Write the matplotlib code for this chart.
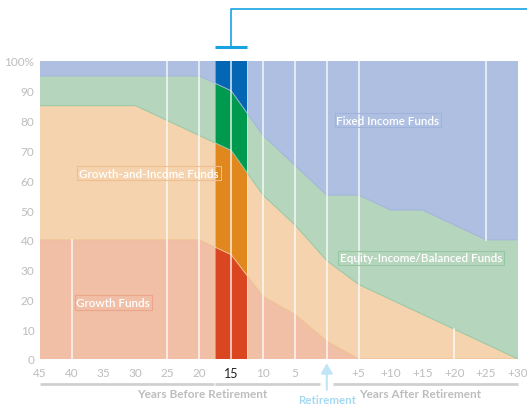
import numpy as np
import matplotlib
matplotlib.use("Agg")
import matplotlib.pyplot as plt
from matplotlib.patches import Rectangle

plt.rcParams["font.family"] = ["Lato", "DejaVu Sans"]

# years relative to retirement (negative = before)
years = [-45, -40, -35, -30, -25, -20, -15, -10, -5, 0, 5, 10, 15, 20, 25, 30]
growth = [40, 40, 40, 40, 40, 40, 35, 21, 15, 6, 0, 0, 0, 0, 0, 0]
growth_income = [45, 45, 45, 45, 40, 35, 35, 34, 30, 27, 25, 20, 15, 10, 5, 0]
equity_income = [10, 10, 10, 10, 15, 20, 20, 20, 20, 22, 30, 30, 35, 35, 35, 40]
fixed_income = [5, 5, 5, 5, 5, 5, 10, 25, 35, 45, 45, 50, 50, 55, 60, 60]

tick_pos = [-45, -40, -35, -30, -25, -20, -15, -10, -5, 5, 10, 15, 20, 25, 30]
tick_lbl = ["45", "40", "35", "30", "25", "20", "15", "10", "5",
            "+5", "+10", "+15", "+20", "+25", "+30"]
highlight_year = -15

light = ["#f1bea6", "#f5d3ae", "#b6d5bd", "#aebfe1"]
edge = ["#eaa58a", "#efc08f", "#95c7a2", "#9fb3db"]
dark = ["#d9461f", "#e0871d", "#009a4e", "#0567b3"]
accent = "#17a3e2"

fig = plt.figure(figsize=(5.27, 4.06), dpi=100, facecolor="white")
ax = fig.add_axes([40 / 527, 1 - 360 / 406, 478 / 527, 298 / 406])
ax.set_xlim(-45, 30)
ax.set_ylim(0, 100)

layers = [growth, growth_income, equity_income, fixed_income]
ax.stackplot(years, *layers, colors=light, linewidth=0)

# highlighted 15-year column
polys = ax.stackplot(years, *layers, colors=dark, linewidth=0)
for p in polys:
    p.set_clip_path(Rectangle((highlight_year - 2.5, 0), 5, 100, transform=ax.transData))

tops = np.cumsum(np.array(layers), axis=0)
for top, c in zip(tops[:3], edge[1:]):
    ax.plot(years, top, color=c, lw=0.7)

# white divider lines (year, from layer top index, to layer top index)
dividers = [(-40, None, 0), (-25, None, 3), (-20, None, 3), (-15, None, 3),
            (-10, None, 3), (-5, None, 3), (0, None, 3), (5, None, 3),
            (20, None, 1), (25, 2, 3)]
for yr, lo, hi in dividers:
    i = years.index(yr)
    y0 = 0 if lo is None else tops[lo][i]
    y1 = tops[hi][i]
    ax.plot([yr, yr], [y0, y1], color="white", lw=1.2, alpha=0.8)
for xb in (highlight_year - 2.5, highlight_year + 2.5):
    ax.axvline(xb, color="white", lw=0.6, alpha=0.45)

# fund labels
labels = [("Growth Funds", -33.5, 19, edge[0]),
          ("Growth-and-Income Funds", -27.9, 62.4, edge[1]),
          ("Fixed Income Funds", 9.6, 80.2, edge[3]),
          ("Equity-Income/Balanced Funds", 14.8, 33.9, edge[2])]
for txt, x, y, ec in labels:
    ax.text(x, y, txt, color="white", fontsize=8.4, ha="center", va="center",
            fontweight="semibold",
            bbox=dict(boxstyle="square,pad=0.15", fc="none", ec=ec, lw=0.8))

for s in ax.spines.values():
    s.set_visible(False)
ax.set_yticks(range(0, 101, 10))
ax.set_yticklabels([str(v) for v in range(0, 100, 10)] + ["100%"])
ax.set_xticks(tick_pos)
ax.set_xticklabels(tick_lbl)
ax.tick_params(length=0, labelsize=8.5, labelcolor="#bdbdbd", pad=4)
ax.tick_params(axis="x", pad=6)
for t, yr in zip(ax.get_xticklabels(), tick_pos):
    if yr == highlight_year:
        t.set_color("#222222")
        t.set_fontsize(9)

# bottom brackets and captions
ax.plot([-45, -17.7], [-8.5, -8.5], color="#d0d0d0", lw=2, clip_on=False, solid_capstyle="butt")
ax.plot([-17.5, -1.0], [-8.5, -8.5], color="#d0d0d0", lw=2, clip_on=False, solid_capstyle="butt")
ax.plot([1.0, 30], [-8.5, -8.5], color="#d0d0d0", lw=2, clip_on=False, solid_capstyle="butt")
ax.text(-19.6, -11.7, "Years Before Retirement", color="#bdbdbd", fontsize=8.5,
        fontweight="bold", ha="center", va="center", clip_on=False)
ax.text(14.7, -11.7, "Years After Retirement", color="#bdbdbd", fontsize=8.5,
        fontweight="bold", ha="center", va="center", clip_on=False)
ax.annotate("", xy=(0, -0.5), xytext=(0, -11.3),
            arrowprops=dict(arrowstyle="-|>,head_width=0.35,head_length=0.6",
                            color="#bfe5f7", lw=1.5), annotation_clip=False)
ax.text(0, -13.7, "Retirement", color="#a6d9f3", fontsize=8.3, fontweight="bold",
        ha="center", va="center", clip_on=False)

# top callout
ax.plot([highlight_year - 2.5, highlight_year + 2.5], [104.8, 104.8], color=accent,
        lw=2.2, clip_on=False, solid_capstyle="butt")
ax.plot([highlight_year, highlight_year, 32], [104.8, 117.6, 117.6], color=accent,
        lw=1.2, clip_on=False)

fig.savefig("out.png", dpi=100, facecolor="white")
